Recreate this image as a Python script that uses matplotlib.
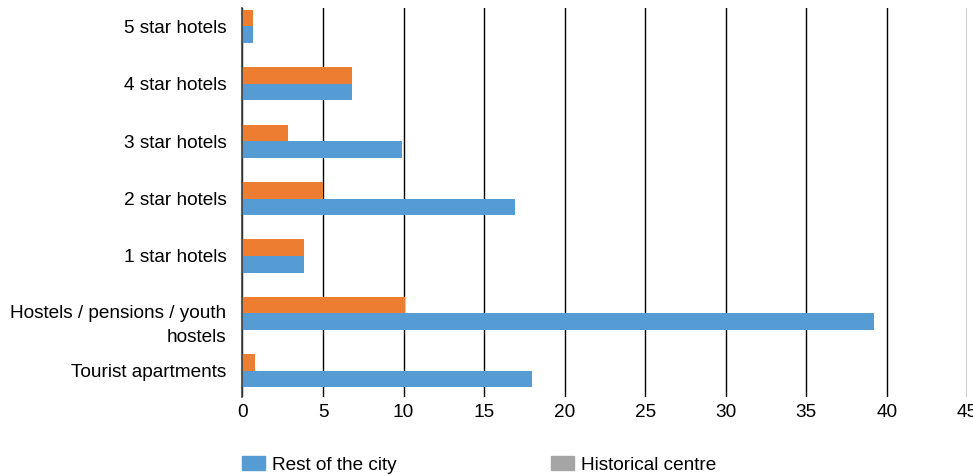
import matplotlib.pyplot as plt
import matplotlib.transforms as mtransforms
from matplotlib.patches import Patch
import numpy as np

plt.rcParams['font.family'] = ['Liberation Sans', 'DejaVu Sans']

categories = ['5 star hotels', '4 star hotels', '3 star hotels', '2 star hotels',
              '1 star hotels', 'Hostels / pensions / youth\nhostels', 'Tourist apartments']
rest_of_city = [0.65, 6.8, 9.9, 16.9, 3.85, 39.2, 18.0]
historical_centre = [0.65, 6.8, 2.85, 5.0, 3.85, 10.1, 0.75]
x_ticks = [0, 5, 10, 15, 20, 25, 30, 35, 40, 45]

blue = '#559BD4'
orange = '#ED7D31'
grey = '#A5A5A5'
fs = 13.7

fig = plt.figure(figsize=(9.73, 4.76), dpi=100)
ax = fig.add_axes([0.2492, 0.166, 0.9943 - 0.2492, 0.983 - 0.166])

y = np.arange(len(categories))
h = 0.29
ax.barh(y - h / 2, historical_centre, height=h, color=orange, zorder=3)
ax.barh(y + h / 2, rest_of_city, height=h, color=blue, zorder=3)

ax.set_xlim(0, 45)
ax.set_ylim(6.46, -0.32)
ax.set_xticks(x_ticks)
ax.set_yticks(y)
ax.set_yticklabels(categories, linespacing=1.5)
ax.xaxis.grid(True, color='black', linewidth=1.0, zorder=0)
ax.tick_params(axis='both', length=0, labelsize=fs, colors='black')
ax.tick_params(axis='x', pad=5)
ax.tick_params(axis='y', pad=11.5)
for lab in ax.get_xticklabels():
    lab.set_clip_on(False)

for side in ['top', 'right', 'bottom']:
    ax.spines[side].set_visible(False)
ax.spines['left'].set_color('#404040')
ax.spines['left'].set_linewidth(1.2)
ax.spines['left'].set_zorder(4)

# push the two-line label down so its first line sits at the category centre
hostel_label = ax.get_yticklabels()[5]
shift = mtransforms.ScaledTranslation(0, -7 / 100, fig.dpi_scale_trans)
hostel_label.set_transform(hostel_label.get_transform() + shift)

handles = [Patch(color=blue, label='Rest of the city'),
           Patch(color=grey, label='Historical centre')]
fig.legend(handles=handles, loc='center left', bbox_to_anchor=(0.2316, 0.024),
           ncol=2, frameon=False, fontsize=fs, handlelength=1.21, handleheight=0.8,
           handletextpad=0.36, columnspacing=8.1)

fig.savefig('out.png', dpi=100)
